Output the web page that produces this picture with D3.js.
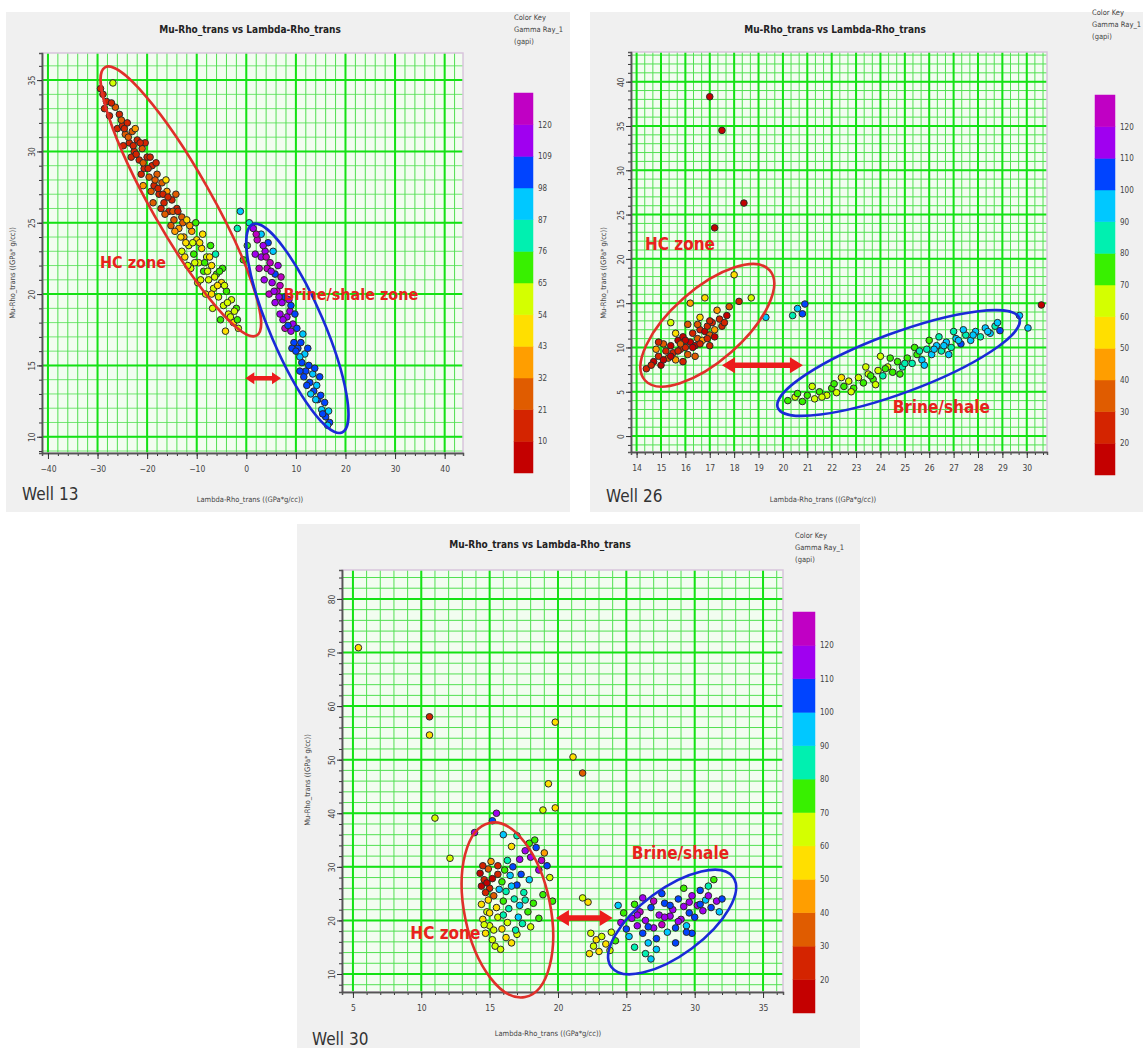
<!DOCTYPE html>
<html>
<head>
<meta charset="utf-8">
<script src="https://cdn.jsdelivr.net/npm/d3@7"></script>
<style>
  body { margin: 0; background: #fff; }
  svg { display: block; }
  text { font-family: "DejaVu Sans Condensed", "DejaVu Sans", sans-serif; }
</style>
</head>
<body>
<svg id="fig" width="1143" height="1048"></svg>
<script>
// colour key, bottom (low gamma ray) to top (high gamma ray)
const keyColors = ["#c40000", "#d42400", "#e05c00", "#ff9e00", "#ffdf00", "#d4ff00",
                   "#38f000", "#00f0b0", "#00c8ff", "#0044ff", "#a000f0", "#c000c4"];
const keyLabels13 = [10, 21, 32, 43, 54, 65, 76, 87, 98, 109, 120];
const keyLabels26 = [20, 30, 40, 50, 60, 70, 80, 90, 100, 110, 120];
const keyLabels30 = [20, 30, 40, 50, 60, 70, 80, 90, 100, 110, 120];

const xTicks13 = [-40, -30, -20, -10, 0, 10, 20, 30, 40];
const yTicks13 = [10, 15, 20, 25, 30, 35];
const xTicks26 = [14, 15, 16, 17, 18, 19, 20, 21, 22, 23, 24, 25, 26, 27, 28, 29, 30];
const yTicks26 = [0, 5, 10, 15, 20, 25, 30, 35, 40];
const xTicks30 = [5, 10, 15, 20, 25, 30, 35];
const yTicks30 = [10, 20, 30, 40, 50, 60, 70, 80];

// [lambda-rho, mu-rho, gamma ray]
const well13 = [
  [-29.4,34.4,12],[-28.9,34.0,16],[-28.2,33.5,20],[-26.9,34.8,62],[-26.4,33.1,24],[-27.6,32.5,14],[-25.6,32.6,18],[-26.0,31.6,11],
  [-25.0,31.8,15],[-24.4,31.2,22],[-24.0,32.0,13],[-23.6,30.6,18],[-23.0,31.4,26],[-22.6,30.0,12],[-22.0,30.8,20],[-21.6,29.4,15],
  [-21.0,30.2,28],[-20.6,28.8,17],[-20.0,29.6,11],[-19.6,28.2,24],[-19.0,29.0,14],[-18.6,27.6,19],[-18.0,28.4,31],[-17.6,27.0,13],
  [-17.0,27.8,22],[-16.6,26.4,16],[-16.0,27.2,36],[-15.6,25.8,20],[-15.0,26.6,14],[-14.6,25.2,27],[-14.0,26.0,18],[-13.6,24.6,42],
  [-13.0,25.4,21],[-12.6,24.0,33],[-23.2,29.6,16],[-21.2,28.4,13],[-19.2,27.2,25],[-17.2,26.0,17],[-15.2,24.8,30],[-24.8,30.4,20],
  [-22.4,31.6,34],[-20.4,30.6,12],[-18.2,29.2,15],[-16.2,28.0,45],[-14.2,27.0,23],[-20.8,27.6,38],[-18.8,26.4,28],
  [-28.6,33.0,18],[-27.2,33.4,13],[-25.2,32.2,21],[-24.6,31.6,11],[-23.8,31.0,30],[-22.8,30.4,14],[-22.2,29.8,17],[-21.4,30.6,12],
  [-20.8,29.2,21],[-19.8,28.8,16],[-19.4,29.6,13],[-18.4,28.0,22],[-17.8,27.4,12],[-16.8,27.0,19],[-16.4,25.6,26],[-15.8,26.8,15],
  [-14.8,25.8,24],[-14.4,24.4,38],[-13.8,25.8,17],[-13.2,24.0,46],[-12.8,25.0,29],
  [-12.0,25.2,48],[-11.6,23.4,58],[-11.0,24.4,40],[-10.6,22.8,66],[-10.0,23.8,52],[-9.6,22.2,60],[-9.0,23.2,45],[-8.6,21.6,70],
  [-8.0,22.6,55],[-7.6,21.0,62],[-7.0,22.0,50],[-6.6,20.4,58],[-6.0,21.4,66],[-5.6,19.8,54],[-5.0,20.8,47],[-4.6,19.2,60],
  [-4.0,20.2,72],[-3.6,18.6,56],[-3.0,19.6,64],[-2.6,18.0,52],[-2.0,19.0,68],[-1.6,17.6,58],[-11.2,21.8,64],[-9.8,20.8,57],
  [-8.2,20.0,61],[-6.8,19.0,55],[-5.2,18.2,66],[-4.2,17.4,53],[-12.4,22.6,47],[-10.2,25.0,70],[-8.8,24.2,44],[-7.2,23.4,75],
  [-6.2,22.8,78],[-4.8,21.8,74],[-13.0,23.0,60],
  [-12.2,23.6,52],[-11.4,24.8,36],[-10.8,23.6,56],[-10.4,22.2,62],[-9.4,23.6,49],[-8.4,22.2,66],[-7.8,21.6,58],[-7.4,22.6,43],
  [-6.4,21.2,63],[-5.8,20.6,50],[-5.4,21.6,70],[-4.4,20.6,57],[-3.8,19.4,62],[-3.2,18.4,55],[-2.4,18.8,60],[-1.8,18.2,66],
  [-9.2,21.0,58],[-7.0,20.0,52],[-11.8,22.0,55],
  [-1.2,25.8,90],[-1.8,24.6,78],[0.2,23.4,72],[-0.6,22.4,68],[0.6,25.0,85],
  [1.4,24.6,118],[2.2,23.8,122],[1.8,22.8,112],[3.0,24.2,96],[3.0,22.6,118],[2.6,21.8,124],[3.8,23.0,110],[4.2,21.8,120],
  [3.6,21.0,116],[4.8,22.2,125],[5.2,20.8,114],[4.6,20.0,122],[5.8,21.4,108],[6.2,20.2,120],[5.8,19.4,116],[6.8,20.6,124],
  [7.2,19.4,112],[6.8,18.6,118],[7.8,19.8,106],[8.2,18.4,114],[7.8,17.6,120],[8.8,18.8,110],[9.0,17.4,116],[9.6,16.6,104],
  [9.4,17.9,112],[10.2,17.6,98],[10.4,16.2,108],[11.0,16.6,100],[11.2,15.2,104],[11.8,15.8,96],[12.0,14.6,100],[12.6,15.0,102],
  [12.8,13.8,98],[13.4,14.4,96],[13.6,13.2,100],[14.2,13.6,94],[14.4,12.6,98],[15.0,12.9,102],[15.2,11.9,96],[15.8,12.4,100],
  [16.0,11.4,98],[16.6,11.8,94],[16.8,11.0,100],[8.6,19.6,118],[9.8,18.6,104],[11.4,17.2,96],[12.4,16.2,98],[13.8,14.8,100],
  [6.4,22.0,112],[4.4,23.6,108],[5.4,23.0,90],[10.8,14.6,102],[14.8,14.2,104],
  [2.0,24.2,120],[3.4,23.4,114],[4.0,22.6,124],[5.0,21.6,118],[5.6,20.2,112],[6.6,19.8,116],[7.4,18.2,110],[8.4,17.8,104],
  [9.2,16.2,100],[10.0,16.0,102],[10.8,15.6,96],[11.6,14.2,98],[12.2,13.6,100],[13.0,13.0,96],[14.0,12.6,94],[15.4,11.6,100],
  [16.4,10.8,96],[7.0,21.2,120],[9.0,19.2,108]
];

const well26 = [
  [17.0,38.3,12],[17.5,34.5,12],[18.4,26.3,12],[17.2,23.5,12],
  [14.4,7.6,22],[14.7,8.4,18],[14.9,9.0,26],[15.0,8.0,14],[15.2,9.6,20],[15.3,8.8,32],[15.4,10.2,16],[15.5,9.4,24],
  [15.6,8.6,45],[15.7,10.8,18],[15.8,9.8,28],[15.9,11.2,14],[16.0,10.0,22],[16.1,9.2,36],[16.2,10.6,19],[16.3,11.6,26],
  [16.4,10.2,15],[16.5,11.0,30],[16.6,12.0,21],[16.7,10.8,40],[16.8,11.8,17],[16.9,12.4,25],[17.0,11.4,33],[17.1,12.8,20],
  [17.2,12.0,48],[17.4,13.2,23],[17.5,12.4,29],[17.7,13.6,18],[15.1,10.4,38],[15.6,11.6,55],[16.1,12.6,38],[16.6,13.4,50],
  [17.3,14.2,42],[14.8,9.8,44],[15.9,8.4,27],[16.4,9.0,33],[17.0,10.2,24],[17.8,14.6,35],[18.2,15.2,28],[16.2,15.0,42],
  [16.8,15.6,52],[15.4,12.8,60],[18.7,15.6,60],[19.3,13.4,92],[18.0,18.2,55],
  [14.6,8.0,20],[15.1,8.6,16],[15.4,9.0,12],[15.7,9.6,22],[16.0,10.8,18],[16.3,10.0,14],[16.6,10.4,24],[16.9,11.0,20],
  [17.2,11.2,16],[17.6,12.8,26],[15.8,10.4,30],[16.5,12.6,35],[17.0,13.0,22],[14.9,10.6,28],
  [20.6,14.4,95],[20.8,13.8,105],[20.4,13.6,88],[20.9,14.9,100],
  [20.2,4.0,72],[20.5,4.4,66],[20.8,3.9,75],[21.0,4.6,70],[21.3,4.2,62],[21.5,5.0,74],[21.8,4.6,68],[22.0,5.4,72],
  [22.2,4.9,60],[22.5,5.6,76],[22.7,6.2,66],[22.9,5.4,70],[23.1,6.6,64],[23.3,6.0,78],[23.5,7.0,68],[23.7,6.4,72],
  [23.9,7.4,62],[24.1,6.8,80],[24.3,7.8,66],[24.5,7.2,74],[24.7,8.4,70],[24.9,7.8,84],[25.1,8.8,76],[25.3,8.2,88],
  [25.5,9.2,72],[25.7,8.6,92],[25.9,9.8,86],[26.1,9.2,96],[26.3,10.2,90],[26.5,9.6,84],[26.7,10.6,98],[26.9,10.0,88],
  [27.1,11.0,94],[27.3,10.4,100],[27.5,11.4,86],[27.7,10.8,92],[27.9,11.8,96],[28.1,11.2,88],[28.3,12.2,98],[28.5,11.6,92],
  [28.7,12.4,86],[28.9,11.9,100],[22.4,6.6,58],[23.4,7.8,62],[24.4,8.8,70],[25.4,10.0,78],[26.4,11.2,82],[27.4,12.0,90],
  [23.8,5.8,66],[24.8,7.0,76],[25.8,8.0,94],[26.8,9.2,90],[21.2,5.6,64],[26.0,10.8,74],[27.0,11.8,80],[24.0,9.0,68],
  [20.6,4.8,70],[21.6,4.4,66],[22.1,5.9,74],[22.8,5.0,62],[23.6,6.8,70],[24.2,7.6,72],[25.0,8.2,80],[25.6,9.6,88],
  [26.2,9.8,92],[26.6,10.2,96],[27.2,10.8,90],[27.8,11.4,98],[28.4,11.8,94],[28.8,12.8,90],
  [29.7,13.6,98],[30.05,12.2,90],[30.6,14.8,12]
];

const well30 = [
  [5.4,70.9,58],[10.6,58.0,28],[10.6,54.6,56],[11.0,39.1,60],[19.8,57.0,58],[21.1,50.5,55],[21.8,47.5,30],[19.3,45.5,56],
  [18.9,40.6,60],[19.8,41.0,58],[12.1,31.6,60],
  [14.3,28.8,18],[14.6,27.6,24],[14.4,26.4,14],[14.9,29.6,30],[15.0,26.0,20],[14.7,25.2,26],[15.2,27.8,12],[15.3,24.6,35],
  [14.5,30.2,22],[15.6,28.6,28],[15.1,31.0,40],
  [14.4,23.0,58],[14.8,21.6,62],[14.5,20.2,55],[15.0,19.0,60],[14.7,17.6,52],[15.2,16.4,64],[15.5,22.4,57],[15.6,20.6,66],
  [15.9,18.4,54],[15.4,15.2,60],[16.2,16.8,58],[15.8,14.6,62],[14.9,23.8,50],[16.3,19.6,68],[16.6,15.8,56],[17.0,17.4,63],
  [15.9,27.2,78],[16.2,25.4,85],[16.5,28.4,92],[16.8,24.0,80],[16.4,22.2,88],[17.0,26.6,100],[17.2,22.8,95],[16.7,30.0,104],
  [17.5,25.2,82],[17.8,21.6,78],[17.4,19.4,86],[17.9,27.6,98],[16.0,23.6,74],[16.3,31.2,84],[17.1,20.6,90],[18.2,23.2,76],
  [18.6,20.4,72],[15.7,25.8,96],[16.9,18.2,80],[18.0,18.8,62],
  [15.0,21.4,56],[15.3,18.2,62],[16.0,21.0,80],[16.6,26.4,96],[17.3,28.6,104],[15.6,30.2,22],[14.8,27.0,16],[17.6,23.8,88],
  [16.1,29.4,78],[14.6,19.2,64],
  [17.6,33.0,112],[18.0,31.8,118],[18.4,33.6,106],[18.8,31.2,120],[17.2,31.4,110],[18.6,29.4,114],[19.2,30.2,108],[17.9,34.4,78],
  [18.3,35.0,72],[19.0,32.6,40],[19.4,28.0,66],[18.9,24.8,74],[19.6,23.6,70],
  [15.5,40.0,115],[15.2,38.6,104],[13.9,36.4,114],[16.0,36.0,96],[17.0,35.8,80],[16.6,33.8,58],
  [21.8,24.2,60],[22.2,23.4,56],
  [22.4,17.6,60],[22.8,16.4,56],[22.6,15.2,62],[23.0,14.2,58],[23.2,17.0,64],[23.5,15.6,54],[23.8,14.4,60],[22.3,13.8,52],
  [23.9,17.8,66],[24.2,16.2,70],
  [24.6,19.6,112],[25.0,18.4,104],[25.4,20.4,118],[25.2,17.0,96],[25.8,19.0,110],[26.0,21.6,122],[26.2,17.6,100],[26.4,20.0,114],
  [26.6,15.8,92],[26.8,22.4,108],[27.0,18.6,118],[27.2,16.6,102],[27.4,21.0,112],[27.6,19.2,120],[27.8,23.2,106],[28.0,17.8,98],
  [28.2,20.8,116],[28.4,22.0,110],[28.6,18.6,104],[28.8,24.0,100],[29.0,20.2,118],[29.2,22.6,112],[29.4,19.0,96],[29.6,21.4,108],
  [29.8,24.6,114],[30.0,20.6,102],[30.2,22.8,118],[30.4,25.6,106],[30.6,21.8,110],[30.8,23.8,98],[31.0,26.4,80],[31.2,22.4,104],
  [31.6,23.6,112],[31.8,21.6,96],[32.0,24.0,108],[26.4,13.8,88],[26.8,12.8,92],[27.2,14.6,96],[25.6,15.0,84],[24.8,21.4,76],
  [25.6,23.0,70],[27.6,25.0,100],[29.2,26.0,72],[31.4,27.6,74],[28.6,15.8,104],[29.8,17.6,100],[24.4,22.8,92],[26.2,24.2,116],
  [25.8,21.0,116],[26.6,18.8,104],[27.8,20.6,118],[28.8,19.8,110],[29.6,23.4,116],[30.4,23.0,104],[31.0,24.6,112],[28.2,22.8,106],
  [27.0,23.6,120],[29.4,17.8,100]
];

// zone annotations in data units: ellipse axis end points, arrows, labels
const zones13 = {
  ellipses: [{a: [-28.5, 35.9], b: [2.1, 17.1], color: "#e0302a"}, {a: [1.3, 24.9], b: [19.3, 10.3], color: "#1a2ad8"}],
  arrow: [[-0.2, 14.1], [7.0, 14.1]],
  labels: [{text: "HC zone", at: [-29.5, 21.8]}, {text: "Brine/shale zone", at: [7.5, 19.6]}]
};
const zones26 = {
  ellipses: [{a: [14.34, 6.3], b: [19.46, 18.7], color: "#e0302a"}, {a: [19.79, 3.2], b: [29.7, 13.3], color: "#1a2ad8"}],
  arrow: [[17.5, 8.0], [20.82, 8.0]],
  labels: [{text: "HC zone", at: [14.34, 21.0]}, {text: "Brine/shale", at: [24.5, 2.6]}]
};
const zones30 = {
  ellipses: [{a: [15.0, 38.2], b: [17.6, 5.7], color: "#e0302a"}, {a: [23.9, 11.3], b: [32.8, 28.1], color: "#1a2ad8"}],
  arrow: [[19.85, 20.45], [24.0, 20.45]],
  labels: [{text: "HC zone", at: [9.2, 16.6]}, {text: "Brine/shale", at: [25.4, 31.4]}]
};

const panels = [
  {well: "Well 13", pts: well13, zones: zones13, keyLabels: keyLabels13, xTicks: xTicks13, yTicks: yTicks13,
   bg: [6, 12, 564, 500], plot: {l: 42, t: 53, r: 463, b: 453},
   xDomain: [-41.2, 43.7], yDomain: [8.86, 36.9], xMinor: 2, yMinor: 1, minorW: [1, 0.8],
   key: {x: 514, y: 93, w: 19, h: 380}, keyText: [514, 20], title: [250, 33], xLabel: [250, 502], yLabel: [12, 273],
   wellAt: [22, 500], ry: [30, 27], arrowSize: [9, 6, 2.2], fs: 16},
  {well: "Well 26", pts: well26, zones: zones26, keyLabels: keyLabels26, xTicks: xTicks26, yTicks: yTicks26,
   bg: [590, 12, 553, 500], plot: {l: 631, t: 52, r: 1047, b: 452},
   xDomain: [13.77, 30.83], yDomain: [-1.8, 43.35], xMinor: 1 / 3, yMinor: 1, minorW: [1, 1],
   key: {x: 1095, y: 95, w: 20, h: 380}, keyText: [1092, 15], title: [835, 33], xLabel: [823, 502], yLabel: [603, 273],
   wellAt: [606, 502], ry: [36, 30], arrowSize: [13, 8, 2.8], fs: 17},
  {well: "Well 30", pts: well30, zones: zones30, keyLabels: keyLabels30, xTicks: xTicks30, yTicks: yTicks30,
   bg: [297, 524, 563, 524], plot: {l: 342, t: 570, r: 783, b: 992},
   xDomain: [4.2, 36.46], yDomain: [6.64, 85.4], xMinor: 1, yMinor: 2, minorW: [1, 1],
   key: {x: 793, y: 612, w: 22, h: 401}, keyText: [795, 538], title: [540, 548], xLabel: [548, 1036], yLabel: [307, 780],
   wellAt: [312, 1045], ry: [43, 33], arrowSize: [13, 8, 2.8], fs: 17}
];

const svg = d3.select("#fig");

function minorValues(domain, step) {
  const out = [];
  const start = Math.ceil(domain[0] / step - 1e-6);
  for (let i = start; i * step <= domain[1] + 1e-9; i++) out.push(i * step);
  return out;
}

function drawPanel(p, idx) {
  const g = svg.append("g");
  g.append("rect").attr("x", p.bg[0]).attr("y", p.bg[1]).attr("width", p.bg[2]).attr("height", p.bg[3])
    .attr("fill", "#f0f0f0");

  const x = d3.scaleLinear().domain(p.xDomain).range([p.plot.l, p.plot.r]);
  const y = d3.scaleLinear().domain(p.yDomain).range([p.plot.b, p.plot.t]);
  const color = d3.scaleThreshold().domain(p.keyLabels).range(keyColors);
  const pw = p.plot.r - p.plot.l, ph = p.plot.b - p.plot.t;

  const clipId = "clip" + idx;
  g.append("clipPath").attr("id", clipId).append("rect")
    .attr("x", p.plot.l).attr("y", p.plot.t).attr("width", pw).attr("height", ph);

  g.append("rect").attr("x", p.plot.l).attr("y", p.plot.t).attr("width", pw).attr("height", ph)
    .attr("fill", "#f2fdf0");

  const xm = minorValues(p.xDomain, p.xMinor);
  const ym = minorValues(p.yDomain, p.yMinor);

  const grid = g.append("g").attr("clip-path", `url(#${clipId})`);
  grid.selectAll(".vx").data(xm).enter().append("line")
    .attr("x1", d => x(d)).attr("x2", d => x(d)).attr("y1", p.plot.t).attr("y2", p.plot.b)
    .attr("stroke", "#52e052").attr("stroke-width", p.minorW[0]);
  grid.selectAll(".hy").data(ym).enter().append("line")
    .attr("y1", d => y(d)).attr("y2", d => y(d)).attr("x1", p.plot.l).attr("x2", p.plot.r)
    .attr("stroke", "#52e052").attr("stroke-width", p.minorW[1]);
  grid.selectAll(".vX").data(p.xTicks).enter().append("line")
    .attr("x1", d => x(d)).attr("x2", d => x(d)).attr("y1", p.plot.t).attr("y2", p.plot.b)
    .attr("stroke", "#14e214").attr("stroke-width", 2);
  grid.selectAll(".hY").data(p.yTicks).enter().append("line")
    .attr("y1", d => y(d)).attr("y2", d => y(d)).attr("x1", p.plot.l).attr("x2", p.plot.r)
    .attr("stroke", "#14e214").attr("stroke-width", 2);

  // frame
  g.append("rect").attr("x", p.plot.l).attr("y", p.plot.t).attr("width", pw).attr("height", ph)
    .attr("fill", "none").attr("stroke", "#d8c4dc").attr("stroke-width", 1.5);

  // axes
  const xAxisMinor = d3.axisBottom(x).tickValues(xm).tickSize(3).tickFormat("");
  const xAxis = d3.axisBottom(x).tickValues(p.xTicks).tickSize(6).tickPadding(7).tickSizeOuter(0);
  const yAxisMinor = d3.axisLeft(y).tickValues(ym).tickSize(3).tickFormat("");
  const yAxis = d3.axisLeft(y).tickValues(p.yTicks).tickSize(5).tickSizeOuter(0);

  g.append("g").attr("transform", `translate(0,${p.plot.b})`).call(xAxisMinor);
  g.append("g").attr("transform", `translate(0,${p.plot.b})`).call(xAxis);
  g.append("g").attr("transform", `translate(${p.plot.l},0)`).call(yAxisMinor);
  const gy = g.append("g").attr("transform", `translate(${p.plot.l},0)`).call(yAxis);
  gy.selectAll("text").attr("x", null).attr("dy", null)
    .attr("transform", "translate(-7,0) rotate(-90)").attr("text-anchor", "middle");
  g.selectAll(".domain").attr("stroke", "#555").attr("stroke-width", 1.5);
  g.selectAll(".tick line").attr("stroke", "#333");
  g.selectAll(".tick text").attr("font-size", 8.5).attr("fill", "#444")
    .attr("font-family", "'DejaVu Sans Condensed', sans-serif");

  // points
  g.append("g").attr("clip-path", `url(#${clipId})`)
    .selectAll("circle").data(p.pts).enter().append("circle")
    .attr("cx", d => x(d[0])).attr("cy", d => y(d[1])).attr("r", 3.3)
    .attr("fill", d => color(d[2])).attr("stroke", "#2a2a2a").attr("stroke-width", 1);

  // zone ellipses
  p.zones.ellipses.forEach((e, i) => {
    const ax = x(e.a[0]), ay = y(e.a[1]), bx = x(e.b[0]), by = y(e.b[1]);
    const cx = (ax + bx) / 2, cy = (ay + by) / 2;
    const rx = Math.hypot(bx - ax, by - ay) / 2;
    const ang = Math.atan2(by - ay, bx - ax) * 180 / Math.PI;
    g.append("ellipse").attr("cx", 0).attr("cy", 0).attr("rx", rx).attr("ry", p.ry[i])
      .attr("transform", `translate(${cx},${cy}) rotate(${ang})`)
      .attr("fill", "none").attr("stroke", e.color).attr("stroke-width", 2.6);
  });

  // double arrow
  const x1 = x(p.zones.arrow[0][0]), x2 = x(p.zones.arrow[1][0]), ya = y(p.zones.arrow[0][1]);
  const [hl, hh, sh] = p.arrowSize;
  const arrowPath = [[x1, ya], [x1 + hl, ya - hh], [x1 + hl, ya - sh], [x2 - hl, ya - sh], [x2 - hl, ya - hh],
                     [x2, ya], [x2 - hl, ya + hh], [x2 - hl, ya + sh], [x1 + hl, ya + sh], [x1 + hl, ya + hh]];
  g.append("path").attr("d", d3.line()(arrowPath) + "Z").attr("fill", "#ec1c1c");

  // zone labels
  p.zones.labels.forEach(l => {
    g.append("text").attr("x", x(l.at[0])).attr("y", y(l.at[1])).text(l.text)
      .attr("fill", "#e8221c").attr("font-size", p.fs).attr("font-weight", "bold");
  });

  // colour key
  const k = p.key;
  const ky = d3.scaleLinear().domain([0, 12]).range([k.y + k.h, k.y]);
  g.selectAll(".key").data(keyColors).enter().append("rect")
    .attr("x", k.x).attr("width", k.w)
    .attr("y", (d, i) => ky(i + 1)).attr("height", (d, i) => ky(i) - ky(i + 1))
    .attr("fill", d => d).attr("stroke", d => d).attr("stroke-width", 0.5);
  g.selectAll(".klab").data(p.keyLabels).enter().append("text")
    .attr("x", k.x + k.w + 5).attr("y", (d, i) => ky(i + 1) + 3)
    .attr("font-size", 8).attr("fill", "#444").text(d => d);
  ["Color Key", "Gamma Ray_1", "(gapi)"].forEach((t, i) => {
    g.append("text").attr("x", p.keyText[0]).attr("y", p.keyText[1] + i * 12).text(t)
      .attr("font-size", 7.5).attr("fill", "#444");
  });

  // titles
  g.append("text").attr("x", p.title[0]).attr("y", p.title[1]).attr("text-anchor", "middle")
    .attr("font-size", 10).attr("font-weight", "bold").attr("fill", "#222")
    .text("Mu-Rho_trans vs Lambda-Rho_trans");
  g.append("text").attr("x", p.xLabel[0]).attr("y", p.xLabel[1]).attr("text-anchor", "middle")
    .attr("font-size", 7.5).attr("fill", "#444").text("Lambda-Rho_trans ((GPa*g/cc))");
  g.append("text").attr("transform", `translate(${p.yLabel[0]},${p.yLabel[1]}) rotate(-90)`)
    .attr("text-anchor", "middle").attr("dy", "0.35em")
    .attr("font-size", 7.5).attr("fill", "#444").text("Mu-Rho_trans ((GPa* g/cc))");
  g.append("text").attr("x", p.wellAt[0]).attr("y", p.wellAt[1]).text(p.well)
    .attr("font-family", "'Open Sans', sans-serif").attr("font-size", 17).attr("fill", "#333");
}

panels.forEach(drawPanel);
</script>
</body>
</html>
